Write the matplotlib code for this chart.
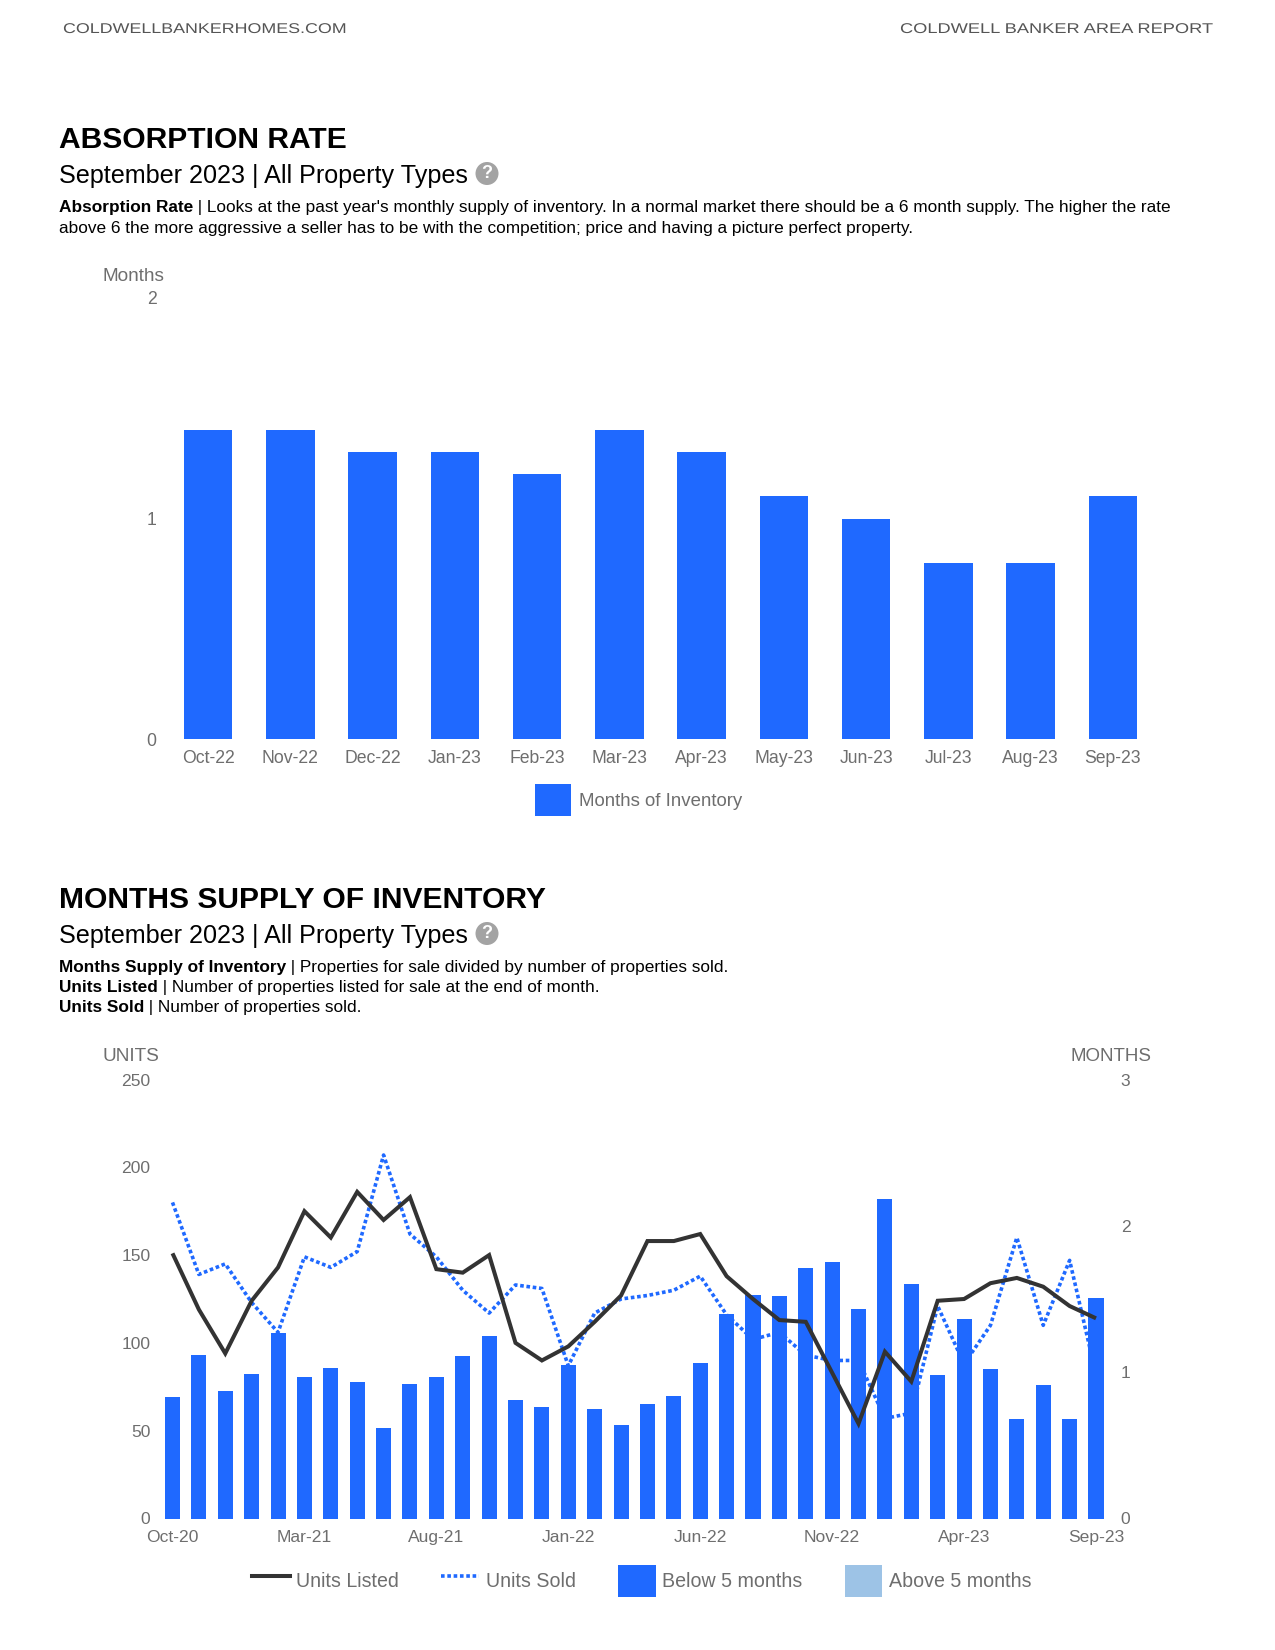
import matplotlib
matplotlib.use("Agg")
import matplotlib.pyplot as plt
import matplotlib.patheffects as pe
from matplotlib.lines import Line2D
from matplotlib.patches import Patch, Circle
from matplotlib.transforms import Affine2D
import numpy as np

W, H = 1275, 1650
BLUE = "#1F69FF"
LIGHT = "#9DC3E6"
DARK = "#333333"
GREY = "#6E6E6E"
FONT = "Liberation Sans"

# ---- Absorption rate
abs_months = ["Oct-22", "Nov-22", "Dec-22", "Jan-23", "Feb-23", "Mar-23",
              "Apr-23", "May-23", "Jun-23", "Jul-23", "Aug-23", "Sep-23"]
abs_values = [1.4, 1.4, 1.3, 1.3, 1.2, 1.4, 1.3, 1.1, 1.0, 0.8, 0.8, 1.1]

# ---- Months supply of inventory
supply_tick_labels = ["Oct-20", "Mar-21", "Aug-21", "Jan-22", "Jun-22",
                      "Nov-22", "Apr-23", "Sep-23"]
supply_months = [0.83, 1.12, 0.87, 0.99, 1.27, 0.97, 1.03, 0.93, 0.62, 0.92,
                 0.97, 1.11, 1.25, 0.81, 0.76, 1.05, 0.75, 0.64, 0.78, 0.84,
                 1.06, 1.40, 1.53, 1.52, 1.71, 1.75, 1.43, 2.18, 1.60, 0.98,
                 1.36, 1.02, 0.68, 0.91, 0.68, 1.51]
units_listed = [151, 119, 94, 124, 143, 175, 160, 186, 170, 183, 142, 140,
                150, 100, 90, 98, 112, 127, 158, 158, 162, 138, 125, 113,
                112, 83, 54, 95, 78, 124, 125, 134, 137, 132, 121, 114]
units_sold = [180, 139, 145, 123, 106, 149, 143, 152, 207, 162, 149, 130,
              117, 133, 131, 87, 117, 125, 127, 130, 138, 116, 102, 106,
              93, 90, 90, 57, 60, 121, 88, 110, 160, 110, 147, 82]

plt.rcParams["font.family"] = [FONT, "DejaVu Sans"]
fig = plt.figure(figsize=(W / 100, H / 100), dpi=100, facecolor="white")


def fx(x):
    return x / W


def fy(y):
    return 1 - y / H


def axes_px(left, top, right, bottom):
    return fig.add_axes([fx(left), fy(bottom), (right - left) / W, (bottom - top) / H])


def clean(ax):
    ax.set_facecolor("none")
    for s in ax.spines.values():
        s.set_visible(False)


class StretchX(pe.AbstractPathEffect):
    """Draw text wider, to stand in for the letter-spaced running header."""

    def __init__(self, sx, x0):
        super().__init__()
        self.sx, self.x0 = sx, x0

    def draw_path(self, renderer, gc, tpath, affine, rgbFace=None):
        extra = Affine2D().translate(-self.x0, 0).scale(self.sx, 1).translate(self.x0, 0)
        renderer.draw_path(gc, tpath, affine + extra, rgbFace)


def header(x, y, s, sx):
    t = fig.text(fx(x), fy(y), s, fontsize=10.2, color="#555555", va="baseline", ha="left")
    t.set_path_effects([StretchX(sx, x)])


DESC = 12.4


def mixed(x, y, bold, rest, size=DESC):
    t = fig.text(fx(x), fy(y), bold, fontsize=size, fontweight="bold", color="black", va="baseline")
    bb = t.get_window_extent(fig.canvas.get_renderer())
    fig.text(bb.x1 / W, fy(y), rest, fontsize=size, color="black", va="baseline")


def section(y_title, title):
    fig.text(fx(59), fy(y_title), title, fontsize=21.65, fontweight="bold", color="black", va="baseline")
    fig.text(fx(59), fy(y_title + 35), "September 2023 | All Property Types", fontsize=18.1,
             color="black", va="baseline")
    cx, cy = 487, y_title + 25.5
    fig.patches.append(Circle((cx, H - cy), 11.5, transform=None, facecolor="#A3A3A3", edgecolor="none"))
    fig.text(fx(cx), fy(cy), "?", fontsize=13, fontweight="bold", color="white", ha="center", va="center")


# ---- page text
header(63, 33, "COLDWELLBANKERHOMES.COM", 1.26)
header(900, 33, "COLDWELL BANKER AREA REPORT", 1.287)

section(148, "ABSORPTION RATE")
mixed(59, 212, "Absorption Rate", " | Looks at the past year's monthly supply of inventory. In a normal market there should be a 6 month supply. The higher the rate")
fig.text(fx(59), fy(233), "above 6 the more aggressive a seller has to be with the competition; price and having a picture perfect property.",
         fontsize=DESC, color="black", va="baseline")

section(908, "MONTHS SUPPLY OF INVENTORY")
mixed(59, 972, "Months Supply of Inventory", " | Properties for sale divided by number of properties sold.")
mixed(59, 992, "Units Listed", " | Number of properties listed for sale at the end of month.")
mixed(59, 1012, "Units Sold", " | Number of properties sold.")

# ---- chart 1
ax1 = axes_px(167, 298, 1154, 739)
clean(ax1)
x1 = np.arange(len(abs_months))
ax1.bar(x1, abs_values, width=0.59, color=BLUE, label="Months of Inventory")
ax1.set_xlim(-0.5, len(abs_months) - 0.5)
ax1.set_ylim(0, 2)
ax1.set_yticks([0, 1, 2])
ax1.set_xticks(x1, abs_months)
ax1.tick_params(axis="both", length=0, labelsize=12.7, labelcolor=GREY)
ax1.tick_params(axis="y", pad=7.5)
ax1.tick_params(axis="x", pad=7.8)
fig.text(fx(102), fy(281), "Months", fontsize=13.7, color=GREY, va="baseline")
fig.legend(handles=[Patch(facecolor=BLUE, label="Months of Inventory")], loc="center left",
           bbox_to_anchor=(fx(535), fy(800)), frameon=False, fontsize=13.4, labelcolor=GREY,
           handlelength=1.93, handleheight=2.22, handletextpad=0.45, borderpad=0, borderaxespad=0)

# ---- chart 2
ax2 = axes_px(159.3, 1079.5, 1109.2, 1518.5)
clean(ax2)
x2 = np.arange(len(supply_months))
ax2.set_xlim(-0.5, len(supply_months) - 0.5)
ax2.set_ylim(0, 250)
ax2.set_yticks([0, 50, 100, 150, 200, 250])
ax2.set_xticks(x2[::5], supply_tick_labels)
ax2.tick_params(axis="both", length=0, labelsize=12.6, labelcolor=GREY)
ax2.tick_params(axis="y", pad=6.5)
ax2.tick_params(axis="x", pad=8)
ax2.plot(x2, units_sold, color=BLUE, lw=2.6, ls=(0, (1, 0.75)), zorder=1)

axr = ax2.twinx()
clean(axr)
axr.set_ylim(0, 3)
axr.set_yticks([0, 1, 2, 3])
axr.tick_params(axis="y", length=0, labelsize=12.6, labelcolor=GREY, pad=8.3)
axr.bar(x2, supply_months, width=0.57, color=BLUE, zorder=2)

axt = fig.add_axes(ax2.get_position(), sharex=ax2, sharey=ax2)
axt.set_axis_off()
axt.plot(x2, units_listed, color=DARK, lw=2.9, solid_joinstyle="miter", solid_capstyle="butt")

fig.text(fx(102), fy(1061), "UNITS", fontsize=13.7, color=GREY, va="baseline")
fig.text(fx(1070), fy(1061), "MONTHS", fontsize=13.5, color=GREY, va="baseline")

fig.legend(handles=[Line2D([], [], color=DARK, lw=2.9, label="Units Listed"),
                    Line2D([], [], color=BLUE, lw=2.6, ls=(0, (1, 0.75)), label="Units Sold"),
                    Patch(facecolor=BLUE, label="Below 5 months"),
                    Patch(facecolor=LIGHT, label="Above 5 months")],
           loc="center left", bbox_to_anchor=(fx(252), fy(1581)), ncol=4, frameon=False,
           fontsize=14.1, labelcolor=GREY, handlelength=1.92, handleheight=2.12, handletextpad=0.35,
           columnspacing=2.15, borderpad=0, borderaxespad=0)

fig.savefig("out.png", dpi=100, facecolor="white")
